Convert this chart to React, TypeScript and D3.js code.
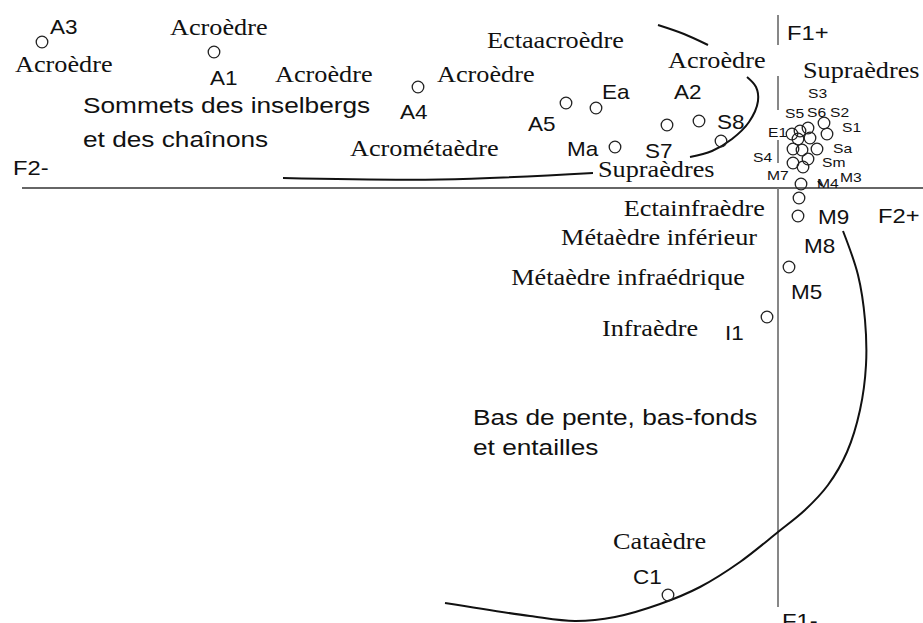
import React from "react";
import * as d3 from "d3";

const W = 923;
const H = 623;

// factor scores: [name, F2 (horizontal), F1 (vertical)]
const summitPoints: [string, number, number][] = [
  ["A3", -7.36, 1.46],
  ["A1", -5.64, 1.36],
  ["A4", -3.6, 1.01],
  ["A5", -2.12, 0.85],
  ["Ea", -1.82, 0.8],
  ["Ma", -1.63, 0.41],
  ["S7", -1.11, 0.63],
  ["A2", -0.79, 0.67],
  ["S8", -0.57, 0.47],
];

const supraPoints: [string, number, number][] = [
  ["S2", 0.46, 0.65],
  ["S1", 0.49, 0.54],
  ["S6", 0.3, 0.6],
  ["S5", 0.22, 0.57],
  ["E1", 0.14, 0.54],
  ["E2", 0.2, 0.49],
  ["S3", 0.32, 0.5],
  ["Sa", 0.39, 0.39],
  ["S4", 0.15, 0.39],
  ["M1", 0.24, 0.38],
  ["Sm", 0.3, 0.29],
  ["M7", 0.15, 0.25],
  ["M3", 0.25, 0.21],
  ["M4", 0.23, 0.04],
];

const lowerPoints: [string, number, number][] = [
  ["M9", 0.21, -0.1],
  ["M8", 0.2, -0.28],
  ["M5", 0.11, -0.79],
  ["I1", -0.11, -1.29],
  ["C1", -1.1, -4.07],
];

// where each label sits relative to its circle (px); missing = no label
const labelOffset: Record<string, [number, number]> = {
  A3: [8, -8], A1: [-4, 33], A4: [-18, 32], A5: [-38, 28], Ea: [6, -9],
  Ma: [-48, 9], S7: [-22, 33], A2: [-25, -22], S8: [-4, -12],
  S2: [6, -6], S1: [15, -2], S6: [-1, -11], S5: [-15, -13], E1: [-24, 3],
  S3: [-2, -40], Sa: [16, 4], S4: [-40, 13], Sm: [14, 8], M7: [-26, 17],
  M3: [37, 15], M4: [16, 4],
  M9: [19, 26], M8: [6, 37], M5: [2, 32], I1: [-42, 23], C1: [-35, -11],
};
const smallLabels = new Set(["S2", "S1", "S6", "S5", "E1", "S3", "Sa", "S4", "Sm", "M7", "M3", "M4"]);

// landform names (serif) and group captions (sans)
const serifNotes: [string, number, number, string][] = [
  ["Acroèdre", -7.63, 1.16, "start"],
  ["Acroèdre", -6.08, 1.53, "start"],
  ["Acroèdre", -5.03, 1.06, "start"],
  ["Acroèdre", -3.41, 1.06, "start"],
  ["Ectaacroèdre", -2.91, 1.4, "start"],
  ["Acroèdre", -1.1, 1.2, "start"],
  ["Acrométaèdre", -4.28, 0.32, "start"],
  ["Supraèdres", -1.8, 0.11, "start"],
  ["Supraèdres", 0.25, 1.1, "start"],
  ["Ectainfraèdre", -0.13, -0.28, "end"],
  ["Métaèdre inférieur", -0.21, -0.57, "end"],
  ["Métaèdre infraédrique", -0.33, -0.97, "end"],
  ["Infraèdre", -1.76, -1.48, "start"],
  ["Cataèdre", -1.65, -3.61, "start"],
];

const sansNotes: [string, number, number][] = [
  ["Sommets des inselbergs", -6.95, 0.75],
  ["et des chaînons", -6.95, 0.41],
  ["Bas de pente, bas-fonds", -3.05, -2.37],
  ["et entailles", -3.05, -2.67],
];

const axisNames: [string, number, number][] = [
  ["F1+", 0.09, 1.48],
  ["F2+", 1.0, -0.35],
  ["F2-", -7.65, 0.13],
  ["F1-", 0.04, -4.4],
];

// hand-drawn group envelopes
const summitBase: [number, number][] = [[-4.95, 0.1], [-3.38, 0.085], [-1.85, 0.15]];
const summitArc: [number, number][] = [
  [-0.88, 0.31], [-0.66, 0.37], [-0.46, 0.49], [-0.29, 0.66], [-0.2, 0.87], [-0.22, 1.01], [-0.31, 1.11],
];
const summitTop: [number, number][] = [[-1.2, 1.63], [-0.94, 1.54], [-0.7, 1.43]];
const lowlandCurve: [number, number][] = [
  [0.65, -0.43], [0.8, -0.87], [0.87, -1.32], [0.88, -1.77], [0.82, -2.22], [0.69, -2.64],
  [0.5, -2.97], [0.27, -3.22], [0, -3.44], [-0.38, -3.74], [-0.78, -3.99], [-1.18, -4.16],
  [-1.63, -4.29], [-2.03, -4.33], [-2.48, -4.28], [-3.33, -4.15],
];
const m9Leader: [number, number][] = [[0.4, 0.07], [0.44, 0.02]];

// visible pieces of the F1 axis (it is broken by labels)
const f1Pieces: [number, number][] = [[1.73, 1.43], [1.12, 0.78], [0.48, 0.25], [0, -4.19]];
const f2Extent: [number, number] = [-7.56, 1.45];

const x = d3.scaleLinear().domain([-7.78, 1.45]).range([0, W]);
const y = d3.scaleLinear().domain([1.88, -4.35]).range([0, H]);

const SERIF = "'Liberation Serif', 'Times New Roman', serif";
const SANS = "'Liberation Sans', Arial, Helvetica, sans-serif";
const STRETCH = 1.15;
const k = 1.25 / STRETCH; // keeps the measured widths while letting glyphs grow taller

const curve = d3
  .line<[number, number]>()
  .x((d) => x(d[0]))
  .y((d) => y(d[1]))
  .curve(d3.curveCatmullRom.alpha(0.5));

const Txt = ({ t, px, py, font, size, anchor = "start" }: any) => (
  <text
    transform={`translate(${px},${py}) scale(${STRETCH},1)`}
    fontFamily={font}
    fontSize={size}
    textAnchor={anchor}
    fill="#111"
  >
    {t}
  </text>
);

export default function App() {
  const allPoints = [...summitPoints, ...supraPoints, ...lowerPoints];

  return (
    <svg
      width={W}
      height={H}
      style={{ position: "absolute", left: 0, top: 0, background: "#fff" }}
    >
      {/* axes */}
      <line x1={x(f2Extent[0])} x2={x(f2Extent[1])} y1={y(0)} y2={y(0)} stroke="#333" strokeWidth={1.4} />
      {f1Pieces.map((p, i) => (
        <line key={i} x1={x(0)} x2={x(0)} y1={y(p[0])} y2={y(p[1])} stroke="#7a7a7a" strokeWidth={1.8} />
      ))}

      {/* envelopes */}
      {[summitBase, summitArc, summitTop, lowlandCurve, m9Leader].map((c, i) => (
        <path key={i} d={curve(c) || ""} fill="none" stroke="#111" strokeWidth={2} />
      ))}

      {/* points */}
      {allPoints.map(([name, f2, f1]) => (
        <circle key={name} cx={x(f2)} cy={y(f1)} r={5.8} fill="none" stroke="#222" strokeWidth={1.3} />
      ))}

      {/* point labels */}
      {allPoints
        .filter(([name]) => labelOffset[name])
        .map(([name, f2, f1]) => {
          const [dx, dy] = labelOffset[name];
          return (
            <Txt
              key={"l" + name}
              t={name}
              px={x(f2) + dx}
              py={y(f1) + dy}
              font={SANS}
              size={(smallLabels.has(name) ? 12.5 : 18) * k}
            />
          );
        })}

      {serifNotes.map(([t, f2, f1, anchor], i) => (
        <Txt key={"s" + i} t={t} px={x(f2)} py={y(f1)} font={SERIF} size={21 * k} anchor={anchor} />
      ))}
      {sansNotes.map(([t, f2, f1], i) => (
        <Txt key={"n" + i} t={t} px={x(f2)} py={y(f1)} font={SANS} size={21 * k} />
      ))}
      {axisNames.map(([t, f2, f1], i) => (
        <Txt key={"a" + i} t={t} px={x(f2)} py={y(f1)} font={SANS} size={19 * k} />
      ))}
    </svg>
  );
}
